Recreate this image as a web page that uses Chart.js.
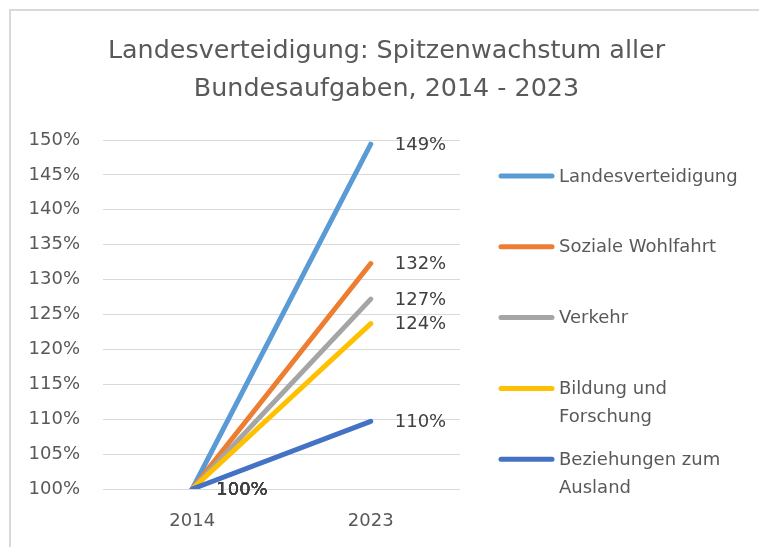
<!DOCTYPE html>
<html>
<head>
<meta charset="utf-8">
<script src="https://cdn.jsdelivr.net/npm/chart.js@4.4.1/dist/chart.umd.min.js"></script>
<style>
  html, body { margin: 0; padding: 0; background: #fff; overflow: hidden; }
  #frame { position: absolute; left: 9px; top: 9px; width: 800px; height: 600px;
           border-left: 2px solid #d9d9d9; border-top: 2px solid #d9d9d9; pointer-events: none; }
  canvas { position: absolute; left: 0; top: 0; }
</style>
</head>
<body>
<canvas id="growth" width="759" height="547"></canvas>
<div id="frame"></div>
<script>
var years = ['2014', '2023'];
var seriesNames = ['Landesverteidigung', 'Soziale Wohlfahrt', 'Verkehr', 'Bildung und Forschung', 'Beziehungen zum Ausland'];
var landesverteidigung = [100, 149.4];
var sozialeWohlfahrt = [100, 132.3];
var verkehr = [100, 127.2];
var bildungForschung = [100, 123.7];
var beziehungenAusland = [100, 109.7];
var colors = ['#5B9BD5', '#ED7D31', '#A5A5A5', '#FFC000', '#4472C4'];
var legendLines = [['Landesverteidigung'], ['Soziale Wohlfahrt'], ['Verkehr'], ['Bildung und', 'Forschung'], ['Beziehungen zum', 'Ausland']];
var titleLines = ['Landesverteidigung: Spitzenwachstum aller', 'Bundesaufgaben, 2014 - 2023'];

var fontFamily = "'DejaVu Sans', sans-serif";
var allValues = [landesverteidigung, sozialeWohlfahrt, verkehr, bildungForschung, beziehungenAusland];

var datasets = allValues.map(function (vals, i) {
    return {
        label: seriesNames[i],
        data: vals,
        borderColor: colors[i],
        backgroundColor: colors[i],
        borderWidth: 5,
        borderCapStyle: 'round',
        pointRadius: 0,
        fill: false,
        order: allValues.length - i
    };
});

// title centred over the whole frame, not the plot area
var frameTitle = {
    id: 'frameTitle',
    afterDraw: function (chart) {
        var ctx = chart.ctx;
        ctx.save();
        ctx.font = '25.4px ' + fontFamily;
        ctx.fillStyle = '#595959';
        ctx.textAlign = 'center';
        ctx.textBaseline = 'alphabetic';
        titleLines.forEach(function (t, k) {
            ctx.fillText(t, chart.width / 2 + 7, 58 + k * 38);
        });
        ctx.restore();
    }
};

// value labels to the right of every point
var valueLabels = {
    id: 'valueLabels',
    afterDatasetsDraw: function (chart) {
        var ctx = chart.ctx;
        ctx.save();
        ctx.font = '18px ' + fontFamily;
        ctx.fillStyle = '#404040';
        ctx.textAlign = 'left';
        ctx.textBaseline = 'middle';
        chart.data.datasets.forEach(function (ds, i) {
            var meta = chart.getDatasetMeta(i);
            meta.data.forEach(function (pt, j) {
                ctx.fillText(Math.round(ds.data[j]) + '%', pt.x + 24, pt.y + 1);
            });
        });
        ctx.restore();
    }
};

// legend on the right with wrapped labels
var sideLegend = {
    id: 'sideLegend',
    afterDraw: function (chart) {
        var ctx = chart.ctx;
        var x0 = chart.chartArea.right + 39;
        var y0 = chart.chartArea.top + 36;
        ctx.save();
        ctx.font = '18px ' + fontFamily;
        ctx.textBaseline = 'middle';
        ctx.fillStyle = '#595959';
        legendLines.forEach(function (lines, i) {
            var y = y0 + i * 70.8;
            ctx.strokeStyle = colors[i];
            ctx.lineWidth = 5;
            ctx.lineCap = 'round';
            ctx.beginPath();
            ctx.moveTo(x0 + 2, y);
            ctx.lineTo(x0 + 53, y);
            ctx.stroke();
            lines.forEach(function (t, k) {
                ctx.fillText(t, x0 + 60, y + 1 + k * 28);
            });
        });
        ctx.restore();
    }
};

new Chart(document.getElementById('growth'), {
    type: 'line',
    data: { labels: years, datasets: datasets },
    options: {
        responsive: false,
        animation: false,
        layout: { padding: { left: 10, right: 299, top: 140, bottom: 0 } },
        plugins: {
            legend: { display: false },
            tooltip: { enabled: false },
            title: { display: false }
        },
        scales: {
            x: {
                offset: true,
                grid: { display: false, drawTicks: false },
                border: { display: false },
                afterFit: function (scale) { scale.height = 58; },
                ticks: { color: '#595959', padding: 22, maxRotation: 0, minRotation: 0, font: { family: fontFamily, size: 18 } }
            },
            y: {
                min: 100,
                max: 150,
                afterFit: function (scale) { scale.width = 93; },
                grid: { color: '#d9d9d9', lineWidth: 1, drawTicks: false },
                border: { display: false },
                ticks: {
                    stepSize: 5,
                    padding: 23,
                    color: '#595959',
                    font: { family: fontFamily, size: 18 },
                    callback: function (v) { return v + '%'; }
                }
            }
        }
    },
    plugins: [valueLabels, sideLegend, frameTitle]
});
</script>
</body>
</html>
